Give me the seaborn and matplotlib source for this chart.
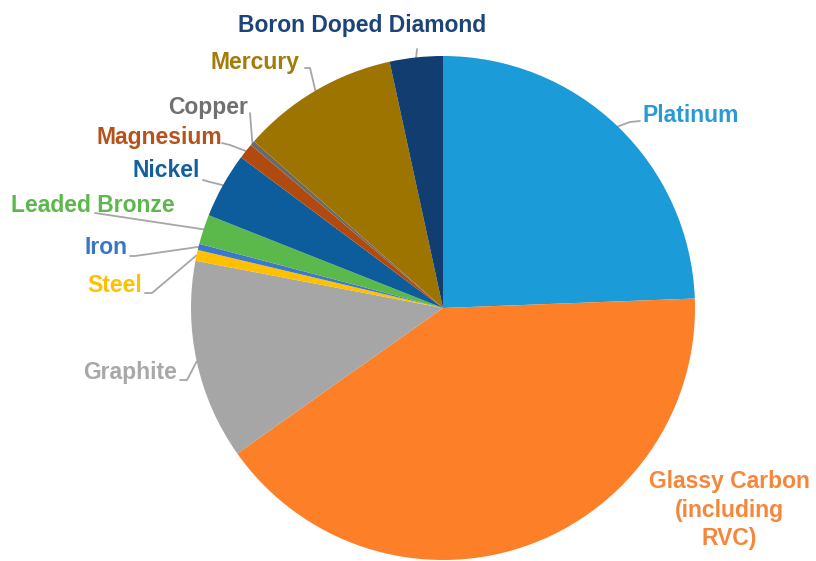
import numpy as np
import matplotlib.pyplot as plt
import seaborn as sns

# data (share of electrode materials, %), clockwise from 12 o'clock
materials = ['Platinum', 'Glassy Carbon\n(including\nRVC)', 'Graphite', 'Steel', 'Iron',
             'Leaded Bronze', 'Nickel', 'Magnesium', 'Copper', 'Mercury', 'Boron Doped Diamond']
shares = [24.4, 40.8, 12.8, 0.7, 0.4, 1.9, 4.2, 1.0, 0.3, 10.1, 3.4]

wedge_colors = ['#1b9bd8', '#fd7f28', '#a6a6a6', '#ffc000', '#3d78cc', '#5bb84a',
                '#0d5c9b', '#b04a0e', '#6a6a6a', '#9e7400', '#123d70']
label_colors = ['#2a9ad6', '#f7863a', '#a8a8a8', '#ffc000', '#3a76c8', '#5cb84c',
                '#14609e', '#b5541a', '#707070', '#a27b0a', '#1c4478']

sns.set_theme(style='white')
plt.rcParams['font.family'] = ['Liberation Sans', 'DejaVu Sans']

W, H = 816, 561
fig = plt.figure(figsize=(W / 100, H / 100), dpi=100)
ax = fig.add_axes([0, 0, 1, 1])

R = 252
cx, cy = 443, H - 308
palette = sns.color_palette(wedge_colors)
wedges, _ = ax.pie(shares, colors=palette, startangle=90, counterclock=False,
                   radius=R, center=(cx, cy), wedgeprops=dict(linewidth=0))
ax.set_xlim(0, W)
ax.set_ylim(0, H)
ax.set_aspect('equal')
ax.axis('off')

# label layout in image pixels: text x, text y, alignment, leader start points
layout = {
    'Platinum': (643, 115, 'left', [(640, 121), (630, 122)]),
    'Glassy Carbon\n(including\nRVC)': (729, 510, 'center', []),
    'Graphite': (177, 372, 'right', [(180, 380), (187, 380)]),
    'Steel': (142, 285, 'right', [(145, 293), (152, 293)]),
    'Iron': (127, 247, 'right', [(130, 256), (135, 256)]),
    'Leaded Bronze': (175, 205, 'right', [(95, 213)]),
    'Nickel': (200, 170, 'right', [(203, 180), (210, 182)]),
    'Magnesium': (222, 137, 'right', [(222, 143), (230, 145)]),
    'Copper': (248, 107, 'right', [(250, 113)]),
    'Mercury': (300, 62, 'right', [(305, 68), (310, 68)]),
    'Boron Doped Diamond': (362, 25, 'center', [(417, 49)]),
}

for w, name, col in zip(wedges, materials, label_colors):
    tx, ty, ha, pts = layout[name]
    ax.text(tx, H - ty, name, ha=ha, va='center', color=col, fontsize=16.5,
            fontweight='bold', linespacing=1.3)
    if pts:
        mid = np.deg2rad((w.theta1 + w.theta2) / 2)
        ex, ey = cx + R * np.cos(mid), cy + R * np.sin(mid)
        xs = [p[0] for p in pts] + [ex]
        ys = [H - p[1] for p in pts] + [ey]
        ax.plot(xs, ys, color='#a6a6a6', lw=1.3, zorder=0)

plt.savefig('out.png', dpi=100)
